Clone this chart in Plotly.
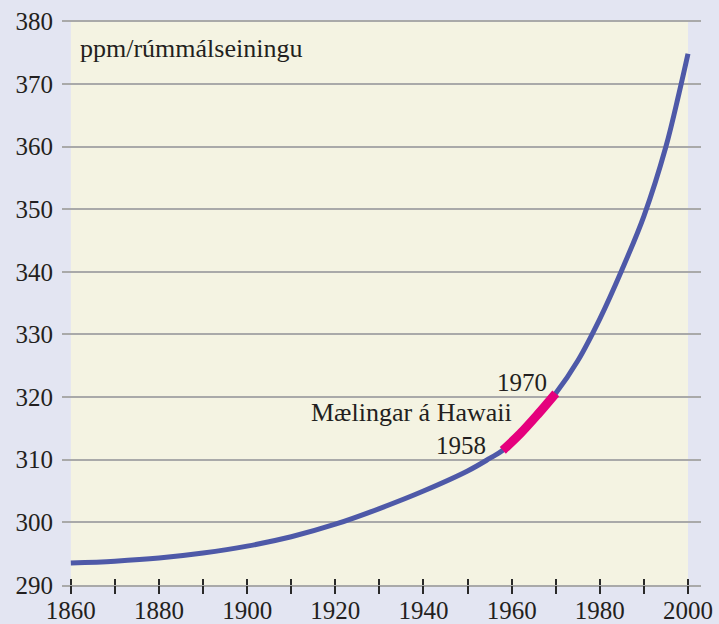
import plotly.graph_objects as go

# ---- data ----
years = [1860, 1870, 1880, 1890, 1900, 1910, 1920, 1930, 1940, 1950, 1955,
         1958, 1962, 1966, 1970, 1975, 1980, 1985, 1990, 1995, 1998, 2000]
ppm = [293.5, 293.8, 294.3, 295.1, 296.2, 297.7, 299.7, 302.2, 305.0, 308.2, 310.2,
       311.5, 314.2, 317.3, 320.6, 325.8, 332.5, 340.3, 348.9, 360.0, 368.6, 374.8]
hawaii_start = 1958
hawaii_end = 1970

x_tick_vals = [1860, 1870, 1880, 1890, 1900, 1910, 1920, 1930, 1940, 1950, 1960, 1970,
               1980, 1990, 2000]
x_tick_text = ["1860", "", "1880", "", "1900", "", "1920", "", "1940", "", "1960", "",
               "1980", "", "2000"]
y_tick_vals = [290, 300, 310, 320, 330, 340, 350, 360, 370, 380]
y_tick_text = [str(v) for v in y_tick_vals]

unit_label = "ppm/rúmmálseiningu"
hawaii_label = "Mælingar á Hawaii"

# ---- styling ----
FONT = "Liberation Serif"
TXT = "#231f20"
LAVENDER = "#e3e5f2"
CREAM = "#f4f3e2"
GRID = "#a9a9a9"
BLUE = "#4e59a8"
MAGENTA = "#e5007d"

hw_x = [y for y in years if hawaii_start <= y <= hawaii_end]
hw_y = [p for y, p in zip(years, ppm) if hawaii_start <= y <= hawaii_end]

fig = go.Figure()
fig.add_trace(go.Scatter(x=years, y=ppm, mode="lines",
                         line=dict(color=BLUE, width=5, shape="spline", smoothing=1.0),
                         showlegend=False, hoverinfo="skip"))
fig.add_trace(go.Scatter(x=hw_x, y=hw_y, mode="lines",
                         line=dict(color=MAGENTA, width=9, shape="spline", smoothing=1.0),
                         showlegend=False, hoverinfo="skip"))
# invisible trace to activate the second x axis (outward half of crossing ticks)
fig.add_trace(go.Scatter(x=years, y=ppm, mode="none", xaxis="x2",
                         showlegend=False, hoverinfo="skip"))

# cream plotting area
fig.add_shape(type="rect", xref="x", yref="y",
              x0=years[0], x1=years[-1], y0=y_tick_vals[0], y1=y_tick_vals[-1],
              fillcolor=CREAM, line=dict(width=0), layer="below")

xrange = [1858.0, 2002.95]
fig.update_layout(
    width=719, height=624,
    paper_bgcolor=LAVENDER, plot_bgcolor=LAVENDER,
    margin=dict(l=62, r=18, t=20, b=39, autoexpand=False),
    font=dict(family=FONT, color=TXT, size=25),
    hovermode=False,
    xaxis=dict(range=xrange, tickmode="array", tickvals=x_tick_vals, ticktext=x_tick_text,
               ticks="inside", ticklen=6, tickwidth=2, tickcolor="#2a2a2a",
               showgrid=False, zeroline=False, showline=True, linecolor=GRID, linewidth=2,
               automargin=False,
               tickfont=dict(family=FONT, size=25, color=TXT), ticklabelstandoff=2),
    xaxis2=dict(range=xrange, overlaying="x", anchor="y", side="bottom",
                tickmode="array", tickvals=x_tick_vals, ticks="outside", ticklen=8,
                tickwidth=2, tickcolor="#2a2a2a", showticklabels=False,
                showgrid=False, zeroline=False, showline=False, automargin=False),
    yaxis=dict(range=[290, 380.2], tickmode="array", tickvals=y_tick_vals,
               ticktext=y_tick_text, ticks="", showgrid=True, gridcolor=GRID,
               gridwidth=2, zeroline=False, showline=False, automargin=False,
               tickfont=dict(family=FONT, size=25, color=TXT), ticklabelstandoff=8),
)

fig.add_annotation(x=1861.6, y=375.7, xref="x", yref="y", text=unit_label,
                   showarrow=False, xanchor="left", yanchor="middle",
                   font=dict(family=FONT, size=26, color=TXT))
fig.add_annotation(x=1960.5, y=317.6, xref="x", yref="y", text=hawaii_label,
                   showarrow=False, xanchor="right", yanchor="middle",
                   font=dict(family=FONT, size=26, color=TXT))
fig.add_annotation(x=1968.5, y=322.4, xref="x", yref="y", text=str(hawaii_end),
                   showarrow=False, xanchor="right", yanchor="middle",
                   font=dict(family=FONT, size=25, color=TXT))
fig.add_annotation(x=1954.6, y=312.3, xref="x", yref="y", text=str(hawaii_start),
                   showarrow=False, xanchor="right", yanchor="middle",
                   font=dict(family=FONT, size=25, color=TXT))

fig.write_html("out.html", config={"displayModeBar": False},
               post_script="document.body.style.margin='0';")
